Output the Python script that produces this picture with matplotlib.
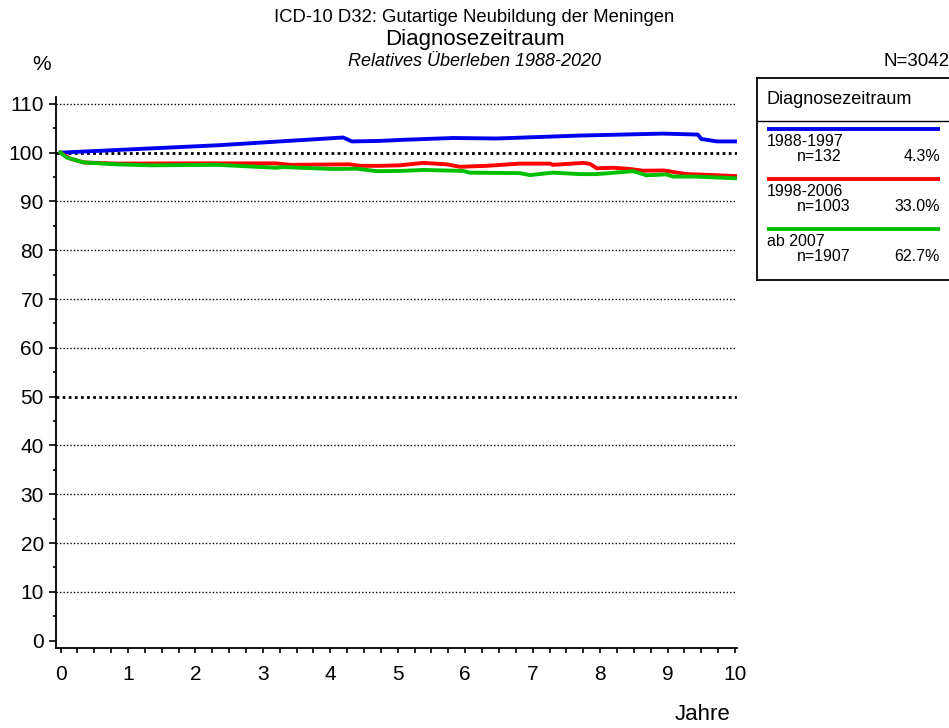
import matplotlib
matplotlib.use("Agg")
import matplotlib.pyplot as plt

plt.rcParams['font.family'] = ['Liberation Sans', 'DejaVu Sans']

# ---- data ----
blue_x = [0, 2.32, 4.19, 4.32, 4.74, 5.03, 5.82, 6.47, 7.70, 8.93, 9.45, 9.50, 9.73, 10.0]
blue_y = [100, 101.5, 103.1, 102.3, 102.4, 102.6, 103.0, 102.9, 103.5, 103.9, 103.7, 102.8, 102.3, 102.3]

red_x = [0, 0.14, 0.34, 0.83, 1.82, 3.2, 3.4, 4.29, 4.44, 4.74, 5.03, 5.38, 5.73, 5.92, 6.32,
         6.81, 7.26, 7.30, 7.75, 7.85, 7.95, 8.2, 8.44, 8.64, 8.94, 9.08, 9.28, 9.68, 10.0]
red_y = [100, 98.8, 98.0, 97.75, 97.8, 97.8, 97.5, 97.6, 97.3, 97.3, 97.4, 97.9, 97.6, 97.1, 97.3,
         97.75, 97.75, 97.5, 97.9, 97.7, 96.8, 96.9, 96.65, 96.3, 96.35, 96.05, 95.6, 95.4, 95.2]

green_x = [0, 0.09, 0.34, 0.83, 1.33, 2.32, 2.91, 3.2, 3.3, 4.04, 4.39, 4.69, 5.03, 5.38, 5.97,
           6.07, 6.81, 6.96, 7.3, 7.7, 7.95, 8.49, 8.69, 8.98, 9.08, 9.38, 9.67, 10.0]
green_y = [100, 99.0, 98.0, 97.6, 97.4, 97.5, 97.1, 96.9, 97.05, 96.65, 96.7, 96.2, 96.25, 96.45, 96.25,
           95.9, 95.8, 95.4, 95.9, 95.6, 95.6, 96.2, 95.35, 95.55, 95.1, 95.1, 94.95, 94.75]

series_names = ["1988-1997", "1998-2006", "ab 2007"]
series_n = ["n=132", "n=1003", "n=1907"]
series_pct = ["4.3%", "33.0%", "62.7%"]
series_colors = ["#0000f0", "#ff0000", "#00c000"]

y_ticks = [0, 10, 20, 30, 40, 50, 60, 70, 80, 90, 100, 110]
x_ticks = [0, 1, 2, 3, 4, 5, 6, 7, 8, 9, 10]

title1 = "ICD-10 D32: Gutartige Neubildung der Meningen"
title2 = "Diagnosezeitraum"
title3 = "Relatives Überleben 1988-2020"
n_total = "N=3042"

# ---- figure ----
W, H = 949, 728
fig = plt.figure(figsize=(W / 100, H / 100), dpi=100)

def fx(px):
    return px / W

def fy(py):
    return 1 - py / H

ax = fig.add_axes([fx(56), fy(648), fx(737) - fx(56), fy(97) - fy(648)])
ax.set_xlim(-0.067, 10.03)
ax.set_ylim(-1.5, 111.4)

for s in ['top', 'right']:
    ax.spines[s].set_visible(False)
for s in ['left', 'bottom']:
    ax.spines[s].set_linewidth(1.3)

# grid lines
for yv in y_ticks[1:]:
    if yv in (50, 100):
        ax.axhline(yv, color='black', lw=2.0, ls=(0, (1, 1.2)), zorder=1)
    else:
        ax.axhline(yv, color='black', lw=1.0, ls=(0, (1, 1.5)), zorder=1)

ax.plot(blue_x, blue_y, color=series_colors[0], lw=2.8, zorder=3)
ax.plot(red_x, red_y, color=series_colors[1], lw=2.8, zorder=3)
ax.plot(green_x, green_y, color=series_colors[2], lw=2.8, zorder=4)

ax.set_yticks(y_ticks)
ax.set_yticks([v + 5 for v in y_ticks[:-1]], minor=True)
ax.set_xticks(x_ticks)
ax.set_xticks([i * 0.25 for i in range(41)], minor=True)
ax.tick_params(axis='y', which='major', direction='out', length=4.8, width=1.2, labelsize=15, pad=4)
ax.tick_params(axis='y', which='minor', direction='out', length=2.5, width=1.2)
ax.tick_params(axis='x', which='both', direction='out', length=3.6, width=1.2, labelsize=15, pad=9)

fig.text(fx(474.5), fy(17), title1, ha='center', va='center', fontsize=13.3)
fig.text(fx(474.5), fy(39.5), title2, ha='center', va='center', fontsize=16)
fig.text(fx(474.5), fy(61.5), title3, ha='center', va='center', fontsize=13, style='italic')
fig.text(fx(42), fy(64), "%", ha='center', va='center', fontsize=15)
fig.text(fx(950), fy(62), n_total, ha='right', va='center', fontsize=13.5)
fig.text(fx(703), fy(715), "Jahre", ha='center', va='center', fontsize=16)

# legend box
lg = fig.add_axes([fx(757), fy(280), fx(960) - fx(757), fy(78) - fy(280)])
lg.set_xlim(757, 960)
lg.set_ylim(280, 78)
lg.set_xticks([])
lg.set_yticks([])
for s in lg.spines.values():
    s.set_linewidth(1.3)
lg.axhline(121, color='black', lw=1.0)
lg.text(767, 99, "Diagnosezeitraum", ha='left', va='center', fontsize=13)
line_y = [128.5, 178.5, 228.5]
for i in range(3):
    ly = line_y[i]
    lg.plot([767, 940], [ly, ly], color=series_colors[i], lw=2.8, solid_capstyle='butt')
    lg.text(767, ly + 13, series_names[i], ha='left', va='center', fontsize=11.5)
    lg.text(797, ly + 28, series_n[i], ha='left', va='center', fontsize=11.5)
    lg.text(940, ly + 28, series_pct[i], ha='right', va='center', fontsize=11.5)

fig.savefig("out.png", dpi=100)
